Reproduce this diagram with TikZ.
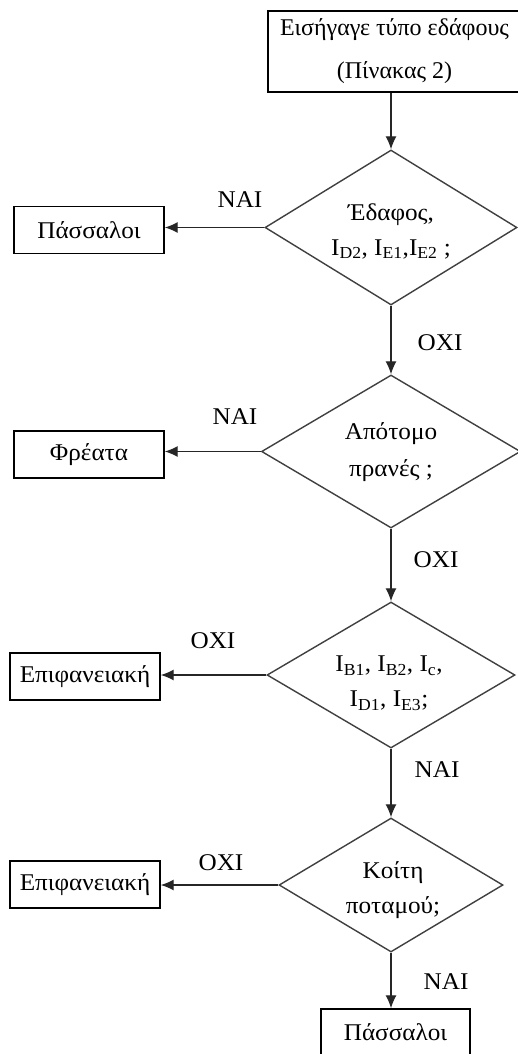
\documentclass[tikz,border=0pt]{standalone}
\usepackage{fontspec}
\setmainfont{Liberation Serif}
\newfontfamily\widefont{Liberation Serif}[FakeStretch=1.05]
\usetikzlibrary{shapes.geometric,arrows.meta}
\begin{document}
\begin{tikzpicture}[x=1pt,y=-1pt,
  box/.style={draw=black,line width=1.4pt,inner sep=0pt,minimum width=150pt,minimum height=47pt,font=\widefont\fontsize{24}{28}\selectfont},
  dia/.style={diamond,draw=black!75,line width=1.4pt,inner sep=0pt},
  dtext/.style={align=center,inner sep=0pt,font=\widefont\fontsize{24}{35}\selectfont},
  lab/.style={font=\widefont\fontsize{24}{28}\selectfont,inner sep=0pt},
  arr/.style={draw=black!85,line width=1.3pt,-{Latex[length=13pt,width=11pt]}}]
\useasboundingbox (0,0) rectangle (518,1054);
\clip (0,0) rectangle (518,1054);
\fill[white] (0,0) rectangle (518,1054);

% start box
\node[box,minimum width=253pt,minimum height=81pt,align=center,font=\fontsize{24}{43}\selectfont] (start) at (394.5,51.5) {Εισήγαγε τύπο εδάφους\\(Πίνακας 2)};

% diamonds
\node[dia,minimum width=252pt,minimum height=155pt] (d1) at (391,227.5) {};
\node[dtext] (t1) at (391,231) {Έδαφος,\\I\textsubscript{D2}, I\textsubscript{E1},I\textsubscript{E2} ;};
\node[dia,minimum width=259pt,minimum height=153pt] (d2) at (391,451.5) {};
\node[dtext,font=\widefont\fontsize{24}{37}\selectfont] (t2) at (391,452) {Απότομο\\πρανές ;};
\node[dia,minimum width=248pt,minimum height=146pt] (d3) at (391,675) {};
\node[dtext] (t3) at (389,683) {I\textsubscript{B1}, I\textsubscript{B2}, I\textsubscript{c},\\I\textsubscript{D1}, I\textsubscript{E3};};
\node[dia,minimum width=224pt,minimum height=134pt] (d4) at (391,885) {};
\node[dtext] (t4) at (393,890) {Κοίτη\\ποταμού;};

% outcome boxes
\node[box] (p1) at (89,230) {Πάσσαλοι};
\node[box] (f) at (89,454.5) {Φρέατα};
\node[box] (e1) at (85,676.5) {Επιφανειακή};
\node[box] (e2) at (85,884.5) {Επιφανειακή};
\node[box,minimum width=149pt] (p2) at (395.5,1032.5) {Πάσσαλοι};

% vertical arrows
\draw[arr] (start.south -| d1.north) -- (d1.north);
\draw[arr] (d1.south) -- (d2.north);
\draw[arr] (d2.south) -- (d3.north);
\draw[arr] (d3.south) -- (d4.north);
\draw[arr] (d4.south) -- (d4.south |- p2.north);

% horizontal arrows
\draw[arr] (d1.west) -- (d1.west -| p1.east);
\draw[arr] (d2.west) -- (d2.west -| f.east);
\draw[arr] (d3.west) -- (d3.west -| e1.east);
\draw[arr] (d4.west) -- (d4.west -| e2.east);

% labels
\node[lab] (l1) at (240,200) {ΝΑΙ};
\node[lab] (l2) at (440,343) {ΟΧΙ};
\node[lab] (l3) at (235,417) {ΝΑΙ};
\node[lab] (l4) at (436,560) {ΟΧΙ};
\node[lab] (l5) at (213,641) {ΟΧΙ};
\node[lab] (l6) at (437,770) {ΝΑΙ};
\node[lab] (l7) at (221,863) {ΟΧΙ};
\node[lab] (l8) at (446,982) {ΝΑΙ};
\end{tikzpicture}
\end{document}
